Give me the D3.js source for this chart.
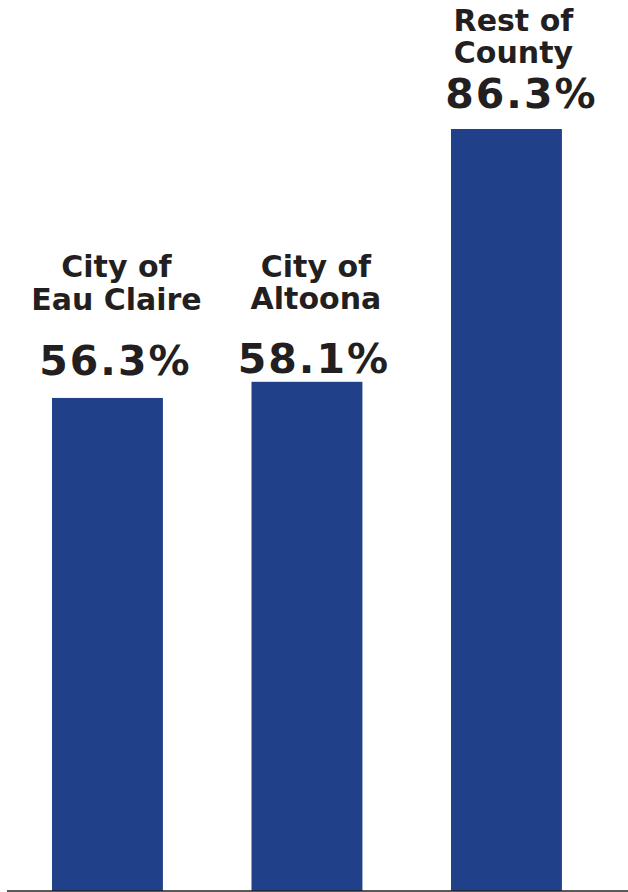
<!DOCTYPE html>
<html>
<head>
<meta charset="utf-8">
<script src="https://cdn.jsdelivr.net/npm/d3@7"></script>
<style>
  html, body { margin: 0; padding: 0; background: #ffffff; }
  svg { display: block; }
</style>
</head>
<body>
<script>
// ---- data ----
const categories = ["City of Eau Claire", "City of Altoona", "Rest of County"];
const labelLines = [["City of", "Eau Claire"], ["City of", "Altoona"], ["Rest of", "County"]];
const values = [56.3, 58.1, 86.3];
const valueLabels = ["56.3%", "58.1%", "86.3%"];

// ---- layout ----
const W = 628, H = 892;
const baseY = 891;
const pctOffset = [23, 9, 21];    // gap between value label baseline and bar top
const lineGap = [65, 64, 45];     // value baseline -> second label line baseline
const lineHeight = [33, 32, 32];
const textShift = [9, 9, 7];
const pctShift = [8, 7, 15];

const svg = d3.select("body").append("svg").attr("width", W).attr("height", H);

const x = d3.scaleBand().domain(categories).range([7.7, 606.2])
  .paddingInner(0.444).paddingOuter(0.222);
const y = d3.scaleLinear().domain([1.3, 86.3]).range([baseY, 129]);

svg.selectAll("rect.bar").data(categories).enter().append("rect")
  .attr("class", "bar")
  .attr("x", d => x(d))
  .attr("width", x.bandwidth())
  .attr("y", (d, i) => y(values[i]))
  .attr("height", (d, i) => baseY - y(values[i]))
  .attr("fill", "#21408a");

// baseline axis
const axis = d3.axisBottom(x).tickSize(0).tickFormat("");
const ag = svg.append("g").attr("transform", `translate(0,${baseY})`).call(axis);
ag.select(".domain").remove();
svg.append("line").attr("x1", 7).attr("x2", W).attr("y1", baseY).attr("y2", baseY)
  .attr("stroke", "#222").attr("stroke-width", 1.5);

const textColor = "#231f20";

categories.forEach((c, i) => {
  const cx = x(c) + x.bandwidth() / 2;
  const pctY = y(values[i]) - pctOffset[i];
  svg.append("text")
    .attr("x", cx + pctShift[i]).attr("y", pctY)
    .attr("text-anchor", "middle")
    .attr("font-family", "DejaVu Sans")
    .attr("font-weight", "bold")
    .attr("font-size", 41)
    .attr("letter-spacing", 2)
    .attr("fill", textColor)
    .text(valueLabels[i]);
  const l2 = pctY - lineGap[i];
  const t = svg.append("text")
    .attr("text-anchor", "middle")
    .attr("font-family", "DejaVu Sans")
    .attr("font-weight", "bold")
    .attr("font-size", 30)
    .attr("fill", textColor);
  labelLines[i].forEach((ln, j) => {
    t.append("tspan")
      .attr("x", cx + textShift[i])
      .attr("y", l2 - (labelLines[i].length - 1 - j) * lineHeight[i])
      .text(ln);
  });
});
</script>
</body>
</html>
